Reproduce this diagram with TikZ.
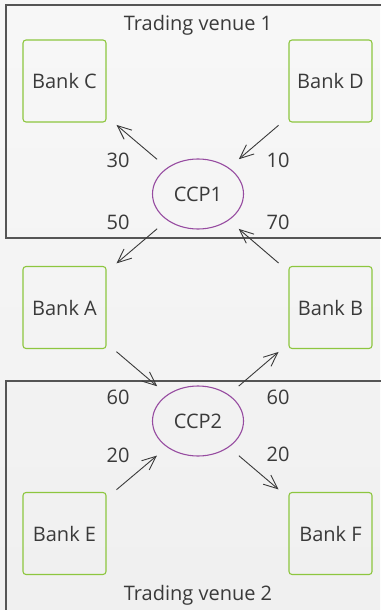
\documentclass[tikz,border=0pt]{standalone}
\usepackage{fontspec}
\setmainfont{Open Sans}
\usetikzlibrary{shapes.geometric,arrows.meta}
\definecolor{bankgreen}{RGB}{141,198,63}
\definecolor{ccppurple}{RGB}{150,75,160}
\definecolor{venuegray}{RGB}{85,85,85}
\definecolor{txt}{RGB}{58,58,58}
\begin{document}
\begin{tikzpicture}[x=1pt,y=-1pt]
        \tikzstyle{every node}=[text=txt, font=\fontsize{20}{24}\selectfont]
        \tikzstyle{bank}=[draw=bankgreen, line width=1.1pt, rounded corners=3pt,
          minimum width=83pt, minimum height=82pt]
        \tikzstyle{ccp}=[ellipse, draw=ccppurple, line width=1.1pt,
          minimum width=91pt, minimum height=70pt]
        \tikzstyle{flow}=[-{Straight Barb[length=14pt,width=12pt]}, draw=txt,
          line width=0.9pt, shorten <=13pt, shorten >=13pt]

        % background and the two venues
        \shade[top color=white!97!black, bottom color=white!94!black]
          (0,0) rectangle (380,610);
        \useasboundingbox (0,0) rectangle (380,610);
        \draw[venuegray, line width=1.2pt]
          (390,5) -- (6,5) -- (6,238) -- (390,238);
        \draw[venuegray, line width=1.2pt]
          (390,381) -- (6,381) -- (6,620);
        \path (198,25) node (venue1) {Trading venue 1};
        \path (198,595) node (venue2) {Trading venue 2};

        \foreach \b/\x/\y in {C/64.5/81, D/330.5/81, A/64.5/307.5,
          B/330.5/307.5, E/64.5/533.5, F/330.5/533.5}
        {
          \path (\x,\y) node[bank] (bank\b) {Bank \b};
        }

        \path (198,194) node[ccp] (ccp1) {CCP1};
        \path (198,421) node[ccp] (ccp2) {CCP2};

        \draw[flow]
          (ccp1) edge (bankC)
          (bankD) edge (ccp1)
          (ccp1) edge (bankA)
          (bankB) edge (ccp1)
          (bankA) edge (ccp2)
          (ccp2) edge (bankB)
          (bankE) edge (ccp2)
          (ccp2) edge (bankF);

        \foreach \v/\x/\y [count=\i] in {30/118/160, 10/278/160, 50/118/222,
          70/278/222, 60/118/397, 60/278/397, 20/118/455, 20/278/454}
        {
          \path (\x,\y) node (amt\i) {\v};
        }
      \end{tikzpicture}
\end{document}
